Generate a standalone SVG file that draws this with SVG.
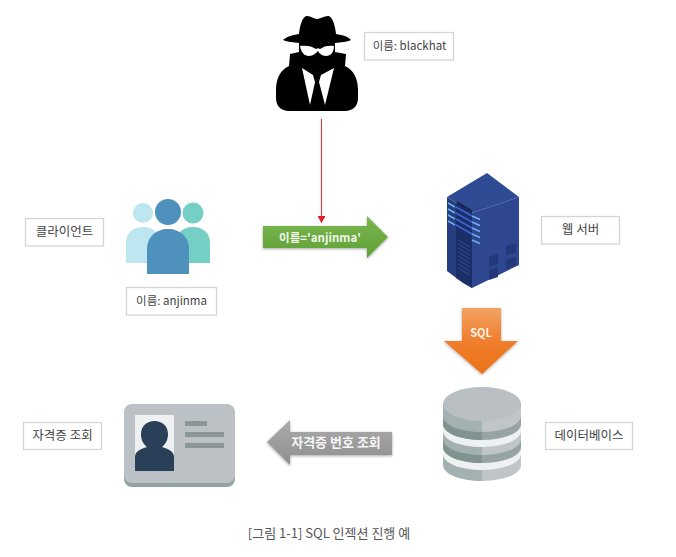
<svg xmlns="http://www.w3.org/2000/svg" width="676" height="557" viewBox="0 0 676 557">
<style>
text{font-family:"Noto Sans CJK KR","Noto Sans",sans-serif;font-size:12.5px;fill:#444;text-anchor:middle}
.lb{fill:#fff;stroke:#d4d4d4;stroke-width:1.3}
.at{fill:#fff;font-weight:700;fill-opacity:.92}
.nm{font-size:11.5px}
.dark{fill:#000}
</style>
<defs>
<filter id="soft" x="-10%" y="-10%" width="120%" height="120%"><feGaussianBlur stdDeviation="0.45"/></filter>
<filter id="sh" x="-15%" y="-15%" width="130%" height="130%"><feDropShadow dx="0" dy="1" stdDeviation="1.6" flood-color="#000" flood-opacity=".35"/></filter>
<linearGradient id="gg" x1="0" y1="0" x2="0" y2="1"><stop offset="0" stop-color="#7cb650"/><stop offset="1" stop-color="#5ea136"/></linearGradient>
<linearGradient id="og" x1="0" y1="0" x2="0" y2="1"><stop offset="0" stop-color="#f2a365"/><stop offset=".45" stop-color="#f08030"/><stop offset="1" stop-color="#ec7016"/></linearGradient>
<linearGradient id="gy" x1="0" y1="0" x2="0" y2="1"><stop offset="0" stop-color="#ababab"/><stop offset="1" stop-color="#8f8f8f"/></linearGradient>
<linearGradient id="band" x1="0" y1="0" x2="1" y2="0"><stop offset=".5" stop-color="#80938f"/><stop offset=".5" stop-color="#98a3a5"/></linearGradient>
<marker id="ah" markerWidth="9" markerHeight="8" refX="7" refY="4" orient="auto" markerUnits="userSpaceOnUse"><path d="M0 0L7 4L0 8Z" fill="#e01f23"/></marker>
</defs>

<g id="connectors">
<line x1="321.500" y1="119" x2="321.500" y2="223" stroke="#e2383a" stroke-width="1.100" marker-end="url(#ah)"/>
<g id="arrow-green"><path d="M263 226H367V216L388 237L367 258V248H263Z" fill="url(#gg)" filter="url(#sh)"/><text class="at" x="320" y="241.500" style="font-size:11.5px">이름='anjinma'</text></g>
<g id="arrow-sql"><path d="M462 308H501V341H518L482 374L444 341H462Z" fill="url(#og)" filter="url(#sh)"/><text class="at" x="481" y="337" style="font-size:11px">SQL</text></g>
<g id="arrow-gray"><path d="M392 432V455H290V465L267 442L290 420V432Z" fill="url(#gy)" filter="url(#sh)"/><text class="at" x="336" y="447" style="font-size:13px">자격증 번호 조회</text></g>
</g>

<g id="node-blackhat">
<g filter="url(#soft)">
<path class="dark" d="M299 34C300 24 303 16 307 16C311 16 314 19 317 19C320 19 324 16 328 16C332 16 335 24 336 34C343 35 349 37 351 40C340 45 295 45 283 40C286 37 292 35 299 34Z"/>
<path class="dark" d="M299 43H335V70H299Z"/>
<path class="dark" d="M290 54L299 52V68H335V52L346 54L345 66C354 70 358 79 358 90V98C358 106 353 111 345 111H289C281 111 276 106 276 98V90C276 79 280 70 289 66Z"/>
<path d="M300 46C306 45 312 46 316 49C318 48 318 48 320 49C324 46 329 45 334 46C334 52 331 56 326 56C322 56 319 53 318 51C316 53 313 56 309 56C304 56 301 52 300 46Z" fill="#fff"/>
<path d="M302 68L313 75L315 82L310 105Z M334 68L321 75L319 82L325 105Z" fill="#fff"/>
</g>
<rect class="lb" x="364.500" y="32.500" width="89" height="27.500"/>
<text class="nm" x="409.500" y="50" style="font-size:11.5px">이름: blackhat</text>
</g>

<g id="node-client">
<g filter="url(#soft)">
<circle cx="143" cy="213" r="10" fill="#bde6f0"/>
<path d="M126 263V243C126 233 133 227 143 227C153 227 160 233 160 243V263Z" fill="#bde6f0"/>
<circle cx="193" cy="213" r="10.500" fill="#76cfc4"/>
<path d="M176 263V243C176 233 183 227 193 227C203 227 210 233 210 243V263Z" fill="#76cfc4"/>
<circle cx="168" cy="212" r="13" fill="#4f91bd"/>
<path d="M147 274V249C147 237 156 229 168 229C180 229 189 237 189 249V274Z" fill="#4f91bd"/>
</g>
<rect class="lb" x="25.500" y="218.500" width="78" height="27.500"/>
<text x="64.500" y="236">클라이언트</text>
<rect class="lb" x="126.500" y="287.500" width="90" height="27.500"/>
<text x="171.500" y="305" style="font-size:11.5px">이름: anjinma</text>
</g>

<g id="node-webserver">
<g filter="url(#soft)">
<path d="M487 173L519 197L472 213L447 197Z" fill="#2f4b93"/>
<path d="M472 213L519 197V265L472 288Z" fill="#2d4790"/>
<path d="M447 197L472 213V288L463 283L447 271Z" fill="#263d80"/>
<path d="M456 203L472 213V288L456 278Z" fill="#1e2f68"/>
<path d="M457 201L472 210V213L457 204Z" fill="#152555"/>
<g stroke="#6ab2ee" stroke-width="1.500" fill="none"><path d="M448 203L455 207M448 209L455 213M448 215L455 219M448 221L455 225"/><path d="M472 216L480 219.500M472 222L480 225.500M472 228L480 231.500M472 234L480 237.500M472 240L480 243.500"/></g>
<g stroke="#3d65d8" stroke-width="1.500" fill="none"><path d="M456 207L472 216M456 213L472 222M456 219L472 228M456 225L472 234"/></g>
<g stroke="#35508f" stroke-width=".8"><path d="M458 240L470 247M458 244L470 251M458 248L470 255M458 252L470 259M458 256L470 263M458 260L470 267M458 264L470 271M458 268L470 275"/></g>
<path d="M489 257L498 254V264L489 267ZM506 246L516 243V252L506 255ZM489 270L498 267V277L489 280ZM506 260L516 257V265L506 269Z" fill="#24397a"/>
</g>
<rect class="lb" x="541.500" y="216.500" width="78" height="27.500"/>
<text x="580.500" y="234">웹 서버</text>
</g>

<g id="node-database">
<g filter="url(#soft)">
<path d="M443 403V465C443 474 460 481 482 481V403Z" fill="#a3b1b2"/>
<path d="M521 403V465C521 474 504 481 482 481V403Z" fill="#c0c5c8"/>
<path d="M443 424C443 433 460 440 482 440C504 440 521 433 521 424V431C521 440 504 447 482 447C460 447 443 440 443 431Z" fill="#eef1f2"/>
<path d="M443 416C443 425 460 432 482 432C504 432 521 425 521 416V424C521 433 504 440 482 440C460 440 443 433 443 424Z" fill="url(#band)"/>
<path d="M443 447C443 456 460 463 482 463C504 463 521 456 521 447V454C521 463 504 470 482 470C460 470 443 463 443 454Z" fill="#eef1f2"/>
<path d="M443 439C443 448 460 455 482 455C504 455 521 448 521 439V447C521 456 504 463 482 463C460 463 443 456 443 447Z" fill="url(#band)"/>
<ellipse cx="482" cy="404" rx="39" ry="17" fill="#b9bfc2"/>
</g>
<rect class="lb" x="545.500" y="422.500" width="87" height="27"/>
<text x="589" y="440">데이터베이스</text>
</g>

<g id="node-idcard">
<g filter="url(#soft)">
<rect x="124" y="409" width="111" height="78" rx="8" fill="#8fa3a3"/>
<rect x="124" y="404" width="111" height="79" rx="8" fill="#bcc1c5"/>
<rect x="135" y="415" width="39" height="56" fill="#eef0f1"/>
<path d="M135 471V457C135 451 141 449 147 447C142 443 141 438 141 434C141 426 147 421 154.500 421C162 421 168 426 168 434C168 438 167 443 162 447C168 449 174 451 174 457V471Z" fill="#2a3f58"/>
<rect x="185" y="421" width="22" height="5" fill="#8b9797"/>
<rect x="185" y="432" width="39" height="5" fill="#8b9797"/>
<rect x="185" y="443" width="39" height="5" fill="#8b9797"/>
</g>
<rect class="lb" x="23.500" y="422.500" width="78" height="27"/>
<text x="62.500" y="440">자격증 조회</text>
</g>

<text id="caption" x="329" y="538" style="fill:#555;font-size:13px">[그림 1-1] SQL 인젝션 진행 예</text>
</svg>
